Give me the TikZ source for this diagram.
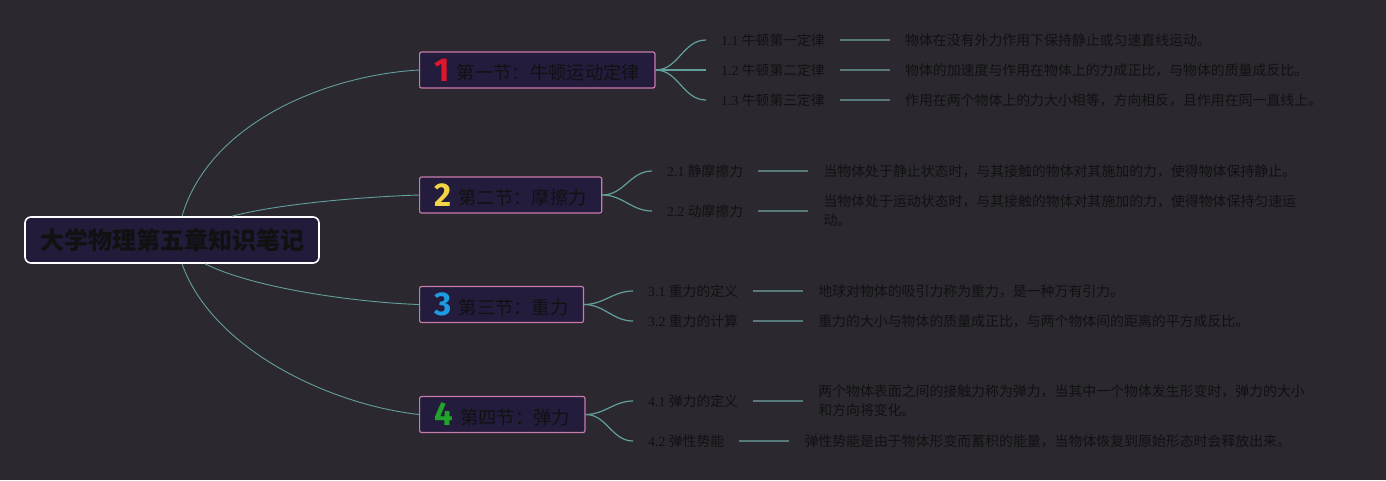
\documentclass[tikz,border=0pt]{standalone}
\usepackage{fontspec}
\setmainfont{Liberation Serif}
\newfontfamily\cjk{Noto Sans CJK SC}
\newfontfamily\numfont{Fira Sans}
\usetikzlibrary{positioning}

\definecolor{bgdark}{HTML}{2C2830}
\definecolor{rootfill}{HTML}{221B3A}
\definecolor{secfill}{HTML}{241C3C}
\definecolor{secpink}{HTML}{C77BA8}
\definecolor{inkdark}{HTML}{111111}
\definecolor{teal}{HTML}{62A09C}
\definecolor{leafgray}{HTML}{587A7B}
\definecolor{numred}{HTML}{E0162B}
\definecolor{numyellow}{HTML}{F2D544}
\definecolor{numblue}{HTML}{1E9BE0}
\definecolor{numgreen}{HTML}{1FA52A}

\begin{document}
\begin{tikzpicture}[x=1pt,y=-1pt,node distance=50pt]
  \tikzstyle{root}=[draw=white,line width=1.6pt,rounded corners=6pt,fill=rootfill,minimum width=294pt,minimum height=46pt,text=inkdark,font=\cjk\bfseries\fontsize{24}{26}\selectfont]
  \tikzstyle{sec}=[anchor=west,draw=secpink,line width=1.2pt,rounded corners=2pt,fill=secfill,minimum height=36pt,inner xsep=15pt,inner ysep=0pt,text=inkdark,font=\cjk\fontsize{18.3}{20}\selectfont]
  \tikzstyle{sub}=[anchor=west,inner xsep=15pt,text=inkdark,font=\fontsize{13.8}{16}\selectfont]
  \tikzstyle{detail}=[inner xsep=15pt,align=left,text=inkdark,font=\cjk\fontsize{13.9}{19}\selectfont]
  \tikzstyle{trunk}=[draw=teal,line width=0.9pt]
  \tikzstyle{branch}=[draw=teal,line width=1.2pt]
  \tikzstyle{leaf}=[draw=leafgray,line width=1.5pt]
  \newcommand{\secnum}[2]{\raisebox{-1.5pt}{\numfont\bfseries\fontsize{33}{33}\selectfont\color{#1}#2}\hspace{7pt}}

  \useasboundingbox[fill=bgdark] (0,0) rectangle (1386,480);

  % root and sections
  \node[root] (root) at (172,240) {大学物理第五章知识笔记};
  \node[sec] (s1) at (419,70) {\secnum{numred}{1}第一节：牛顿运动定律};
  \node[sec] (s2) at (419,195) {\secnum{numyellow}{2}第二节：摩擦力};
  \node[sec] (s3) at (419,304.5) {\secnum{numblue}{3}第三节：重力};
  \node[sec] (s4) at (419,414.5) {\secnum{numgreen}{4}第四节：弹力};

  \draw[trunk] ([xshift=10pt]root.north) .. controls +(28,-95) and +(-90,5) .. (s1.west);
  \draw[trunk] ([xshift=60pt]root.north) .. controls +(45,-12) and +(-60,2) .. (s2.west);
  \draw[trunk] ([xshift=33pt]root.south) .. controls +(50,25) and +(-60,-2) .. (s3.west);
  \draw[trunk] ([xshift=10pt]root.south) .. controls +(30,85) and +(-90,-10) .. (s4.west);

  % subtopics
  \node[sub] (t11) at (706,40) {1.1 {\cjk 牛顿第一定律}};
  \node[sub] (t12) at (706,70) {1.2 {\cjk 牛顿第二定律}};
  \node[sub] (t13) at (706,100) {1.3 {\cjk 牛顿第三定律}};
  \node[sub] (t21) at (652,171) {2.1 {\cjk 静摩擦力}};
  \node[sub] (t22) at (652,211) {2.2 {\cjk 动摩擦力}};
  \node[sub] (t31) at (633,291) {3.1 {\cjk 重力的定义}};
  \node[sub] (t32) at (633,321) {3.2 {\cjk 重力的计算}};
  \node[sub] (t41) at (633,401) {4.1 {\cjk 弹力的定义}};
  \node[sub] (t42) at (633,441) {4.2 {\cjk 弹性势能}};

  % details
  \node[detail,right=of t11] (d11) {物体在没有外力作用下保持静止或匀速直线运动。};
  \node[detail,right=of t12] (d12) {物体的加速度与作用在物体上的力成正比，与物体的质量成反比。};
  \node[detail,right=of t13] (d13) {作用在两个物体上的力大小相等，方向相反，且作用在同一直线上。};
  \node[detail,right=of t21] (d21) {当物体处于静止状态时，与其接触的物体对其施加的力，使得物体保持静止。};
  \node[detail,right=of t22] (d22) {当物体处于运动状态时，与其接触的物体对其施加的力，使得物体保持匀速运\\动。};
  \node[detail,right=of t31] (d31) {地球对物体的吸引力称为重力，是一种万有引力。};
  \node[detail,right=of t32] (d32) {重力的大小与物体的质量成正比，与两个物体间的距离的平方成反比。};
  \node[detail,right=of t41] (d41) {两个物体表面之间的接触力称为弹力，当其中一个物体发生形变时，弹力的大小\\和方向将变化。};
  \node[detail,right=of t42] (d42) {弹性势能是由于物体形变而蓄积的能量，当物体恢复到原始形态时会释放出来。};

  \foreach \a/\b in {s1/t11,s1/t12,s1/t13,s2/t21,s2/t22,s3/t31,s3/t32,s4/t41,s4/t42}
    \draw[branch] (\a.east) to[out=0,in=180] (\b.west);
  \foreach \s in {11,12,13,21,22,31,32,41,42}
    \draw[leaf] (t\s) -- (d\s);
\end{tikzpicture}
\end{document}
